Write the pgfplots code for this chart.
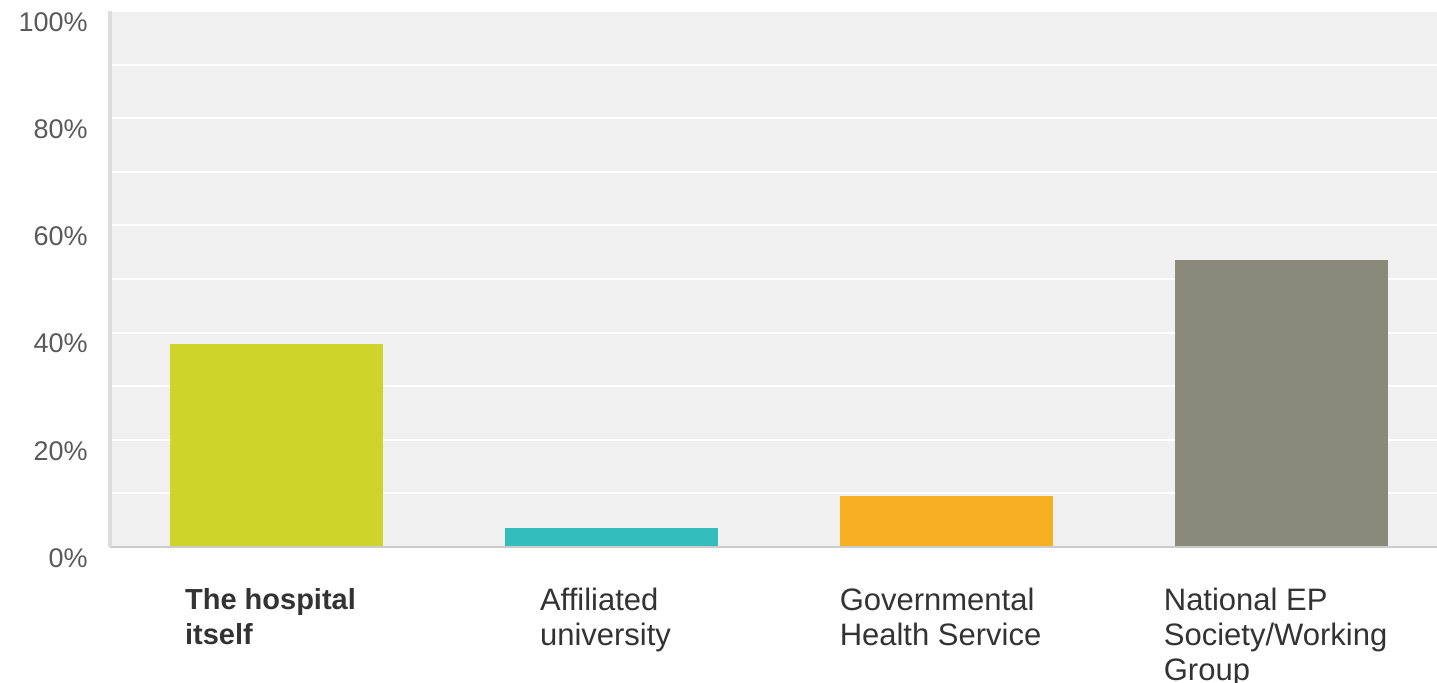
\documentclass[border=0pt]{standalone}
\usepackage{pgfplots}
\pgfplotsset{compat=1.18}
\usepackage{fontspec}
\setmainfont{Liberation Sans}
\usetikzlibrary{calc}
\definecolor{bg}{HTML}{F0F0F0}
\definecolor{barA}{HTML}{CED42A}
\definecolor{barB}{HTML}{33BDBD}
\definecolor{barC}{HTML}{F5AF21}
\definecolor{barD}{HTML}{898A79}
\definecolor{spineL}{HTML}{DDDDDD}
\definecolor{spineB}{HTML}{CBCBCB}
\definecolor{ytxt}{HTML}{5A5A5A}
\definecolor{xtxt}{HTML}{333333}
\begin{document}
\begin{tikzpicture}
\begin{axis}[
  scale only axis, width=663.5pt, height=268pt,
  xmin=-0.497, xmax=3.464, ymin=0, ymax=100,
  axis background/.style={fill=bg},
  axis line style={draw=none},
  /pgf/number format/assume math mode=true,
  major tick length=0pt, minor tick length=0pt,
  xtick={0,1,2,3},
  xticklabels={{\fontsize{14.5}{17.5}\selectfont\textbf{The hospital}\\\fontsize{14.5}{17.5}\selectfont\textbf{itself}},{Affiliated\\university},{Governmental\\Health Service},{National EP\\Society/Working\\Group}},
  xticklabel style={align=left, anchor=north, inner sep=0pt, yshift=-20.5pt, xshift=-3pt, text=xtxt, font=\fontsize{15.5}{17.5}\selectfont},
  ytick={0,20,...,100}, minor ytick={10,30,...,90},
  yticklabel={\pgfmathprintnumber{\tick}\%},
  yticklabel style={anchor=east, inner sep=0pt, xshift=-11pt, yshift=-5.5pt, text=ytxt, font=\fontsize{13.5}{16}\selectfont},
  ymajorgrids, yminorgrids,
  major grid style={white, line width=1pt},
  minor grid style={white, line width=1pt},
  clip=false,
]
\addplot[ybar, bar shift=0pt, bar width=0.636, fill=barA, draw=none] coordinates {(0,37.8)};
\addplot[ybar, bar shift=0pt, bar width=0.636, fill=barB, draw=none] coordinates {(1,3.6)};
\addplot[ybar, bar shift=0pt, bar width=0.636, fill=barC, draw=none] coordinates {(2,9.6)};
\addplot[ybar, bar shift=0pt, bar width=0.636, fill=barD, draw=none] coordinates {(3,53.5)};
\draw[spineB, line width=1pt] (rel axis cs:0,0) -- (rel axis cs:1,0);
\draw[spineL, line width=2pt] (rel axis cs:0,0) -- (rel axis cs:0,1);
\end{axis}
\pgfresetboundingbox
\path[use as bounding box] ($(current axis.south west)+(-55pt,-67.5pt)$) rectangle ($(current axis.north east)+(0,5.5pt)$);
\end{tikzpicture}
\end{document}
